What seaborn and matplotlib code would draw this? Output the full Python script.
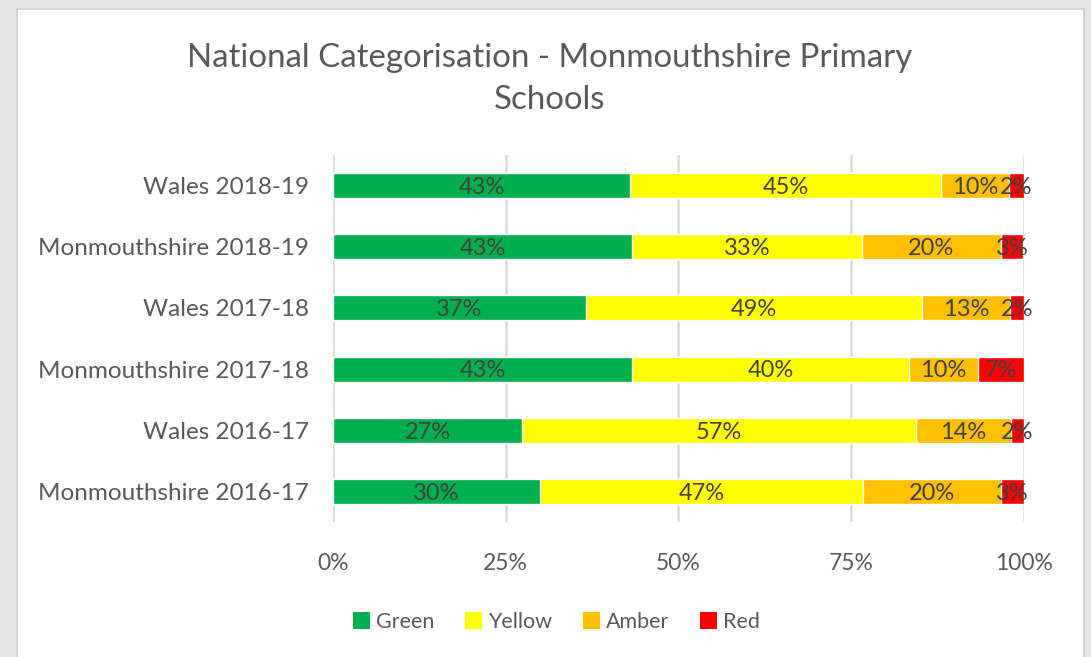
import numpy as np
import pandas as pd
import matplotlib
matplotlib.use("Agg")
import matplotlib.pyplot as plt
from matplotlib.patches import Patch, Rectangle
import seaborn as sns

# Data (shares of schools, 0-1)
groups = ["Wales 2018-19", "Monmouthshire 2018-19", "Wales 2017-18",
          "Monmouthshire 2017-18", "Wales 2016-17", "Monmouthshire 2016-17"]
green = [0.430, 0.433, 0.366, 0.433, 0.274, 0.300]
yellow = [0.450, 0.333, 0.487, 0.400, 0.570, 0.467]
amber = [0.098, 0.200, 0.126, 0.100, 0.137, 0.200]
red = [0.022, 0.033, 0.021, 0.067, 0.019, 0.033]

categories = ["Green", "Yellow", "Amber", "Red"]
colours = {"Green": "#00B050", "Yellow": "#FFFF00", "Amber": "#FFC000", "Red": "#FF0000"}

df = pd.DataFrame({"group": groups, "Green": green, "Yellow": yellow,
                   "Amber": amber, "Red": red})
cum = df[categories].cumsum(axis=1)

sns.set_style("white")
plt.rcParams["font.family"] = ["Lato", "DejaVu Sans"]

fig = plt.figure(figsize=(10.91, 6.57), dpi=100, facecolor="#e4e4e4")
# white chart area like the Excel chart box
fig.patches.append(Rectangle((0.0156, -0.01), 0.978, 0.997, transform=fig.transFigure,
                             facecolor="white", edgecolor="#d0d0d0", lw=1.2, zorder=-5))
ax = fig.add_axes([0.3052, 0.2055, 0.6334, 0.5586])
ax.set_facecolor("white")

# stacked bars: draw cumulative totals from the back to the front
for cat in reversed(categories):
    sns.barplot(x=cum[cat], y=df["group"], color=colours[cat], orient="h",
                width=0.41, saturation=1, ax=ax, zorder=3)

# value labels in the middle of each segment
for i, row in df.iterrows():
    left = 0
    for cat in categories:
        w = row[cat]
        ax.text(left + w / 2, i + 0.03, f"{w:.0%}", ha="center", va="center",
                fontsize=17, color="#404040", zorder=5)
        left += w

ax.set_xlim(0, 1)
ax.set_ylim(5.5, -0.5)
ax.set_xticks([0, 0.25, 0.5, 0.75, 1.0])
ax.set_xticklabels(["0%", "25%", "50%", "75%", "100%"])
ax.grid(axis="x", color="#d9d9d9", lw=1.8, zorder=0)
ax.set_axisbelow(True)
ax.set_xlabel("")
ax.set_ylabel("")
ax.tick_params(axis="x", labelsize=16.5, labelcolor="#595959", length=0, pad=22)
ax.tick_params(axis="y", labelsize=17.5, labelcolor="#595959", length=0, pad=17)
for s in ax.spines.values():
    s.set_visible(False)

fig.text(0.504, 0.88, "National Categorisation - Monmouthshire Primary\nSchools",
         ha="center", va="center", fontsize=23.8, color="#595959", linespacing=1.5)

handles = [Patch(facecolor=colours[c], edgecolor="none", label=c) for c in categories]
fig.legend(handles=handles, loc="center", bbox_to_anchor=(0.51, 0.053), ncol=4,
           frameon=False, fontsize=15.5, labelcolor="#595959", handlelength=0.8,
           handleheight=0.8, handletextpad=0.3, columnspacing=1.4)

fig.savefig("out.png", dpi=100, facecolor=fig.get_facecolor())
